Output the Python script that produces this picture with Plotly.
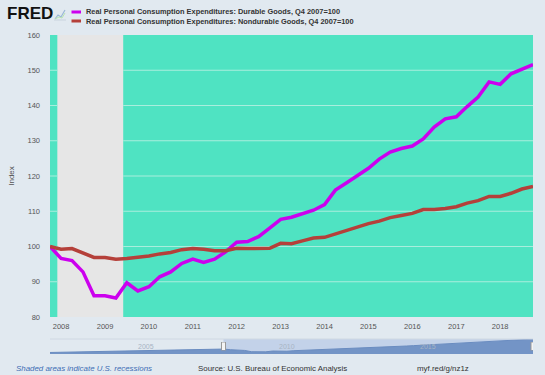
import plotly.graph_objects as go
import pandas as pd

# ---------------- data ----------------
quarters = pd.date_range("2007-10-01", "2018-10-01", freq="QS").strftime("%Y-%m-%d").tolist()

durable = [100.0, 96.6, 96.0, 92.8, 86.0, 86.0, 85.4, 89.7, 87.4, 88.6, 91.4, 92.8,
           95.2, 96.4, 95.5, 96.4, 98.5, 101.2, 101.4, 102.8, 105.2, 107.7, 108.3, 109.2,
           110.3, 111.9, 116.0, 118.0, 120.2, 122.2, 124.8, 126.8, 127.8, 128.5, 130.5,
           133.9, 136.2, 136.8, 139.7, 142.4, 146.7, 146.0, 149.0, 150.3, 151.6]

nondurable = [100.0, 99.2, 99.4, 98.1, 96.9, 96.9, 96.4, 96.6, 96.9, 97.3, 97.9, 98.3,
              99.1, 99.4, 99.2, 98.8, 98.8, 99.5, 99.4, 99.4, 99.5, 100.9, 100.8, 101.6,
              102.4, 102.6, 103.6, 104.5, 105.5, 106.5, 107.2, 108.2, 108.8, 109.4, 110.5,
              110.5, 110.8, 111.3, 112.3, 113.0, 114.2, 114.2, 115.1, 116.3, 117.0]

series_names = ["Real Personal Consumption Expenditures: Durable Goods, Q4 2007=100",
                "Real Personal Consumption Expenditures: Nondurable Goods, Q4 2007=100"]
series_colors = ["#cc00ee", "#b5403a"]

recession = ["2007-12-01", "2009-06-01"]

y_ticks = [80, 90, 100, 110, 120, 130, 140, 150, 160]

nav_hist_dates = ["2001-08-01", "2003-07-01", "2005-07-01", "2007-01-01"]
nav_hist_values = [82, 87, 93, 98]
nav_dates = nav_hist_dates + quarters
nav_values = nav_hist_values + durable
nav_labels = ["2005", "2010", "2015"]
nav_label_dates = ["2005-01-01", "2010-01-01", "2015-01-01"]

x_tick_vals = [f"{y}-01-01" for y in range(2008, 2019)]
x_tick_text = [str(y) for y in range(2008, 2019)]

footer_left = "Shaded areas indicate U.S. recessions"
footer_mid = "Source: U.S. Bureau of Economic Analysis"
footer_right = "myf.red/g/nz1z"

# ---------------- layout helpers ----------------
W, H = 545, 375
ML, MR, MT, MB = 50, 12, 35, 21
PW, PH = W - ML - MR, H - MT - MB


def px(x):
    return (x - ML) / PW


def py(y):
    return (H - MB - y) / PH


FONT = "Liberation Sans, Arial, sans-serif"
PAPER = "#e1e9f0"
TURQ = "#4fe3c2"
GRID = "#a9eedd"

fig = go.Figure()

for name, vals, col in zip(series_names, [durable, nondurable], series_colors):
    fig.add_trace(go.Scatter(x=quarters, y=vals, mode="lines", name=name,
                             line=dict(color=col, width=3.5), showlegend=False,
                             xaxis="x", yaxis="y"))

fig.add_trace(go.Scatter(x=nav_dates, y=nav_values, mode="lines", fill="tozeroy",
                         fillcolor="#7394c6", line=dict(color="#6a8cc0", width=1),
                         showlegend=False, hoverinfo="skip", xaxis="x2", yaxis="y2"))

main_bottom = py(317)
fig.update_layout(
    width=W, height=H,
    margin=dict(l=ML, r=MR, t=MT, b=MB),
    paper_bgcolor=PAPER,
    plot_bgcolor="rgba(0,0,0,0)",
    font=dict(family=FONT, size=8, color="#555555"),
    xaxis=dict(type="date", range=[quarters[0], quarters[-1]], domain=[0, 1],
               anchor="y", tickvals=x_tick_vals, ticktext=x_tick_text,
               showgrid=False, zeroline=False, ticks="", showline=False,
               ticklabelstandoff=3,
               tickfont=dict(size=7.5, color="#555555")),
    yaxis=dict(range=[y_ticks[0], y_ticks[-1]], tickvals=y_ticks, domain=[main_bottom, 1], anchor="x",
               showgrid=False, zeroline=False, ticks="", showline=False,
               tickfont=dict(size=7.5, color="#555555"), ticklabelstandoff=9,
               title=dict(text="Index", font=dict(size=8, color="#555555"), standoff=11)),
    xaxis2=dict(type="date", range=[nav_dates[0], quarters[-1]], domain=[0, 1],
                anchor="y2", showticklabels=False, showgrid=False, zeroline=False,
                ticks="", showline=False),
    yaxis2=dict(range=[74, 153], domain=[0, py(339)], anchor="x2",
                showticklabels=False, showgrid=False, zeroline=False, ticks=""),
)

shapes = []
# turquoise plot background
shapes.append(dict(type="rect", xref="x domain", yref="y domain", x0=0, x1=1, y0=0, y1=1,
                   fillcolor=TURQ, line=dict(width=0), layer="below"))
# recession shading
shapes.append(dict(type="rect", xref="x", yref="y domain", x0=recession[0], x1=recession[1],
                   y0=0, y1=1, fillcolor="#e6e6e6", line=dict(width=0), layer="below"))
# gridlines outside the recession band
for t in y_ticks[1:-1]:
    for xa, xb in [(quarters[0], recession[0]), (recession[1], quarters[-1])]:
        shapes.append(dict(type="line", xref="x", yref="y", x0=xa, x1=xb, y0=t, y1=t,
                           line=dict(color=GRID, width=1), layer="below"))
# navigator selected region
shapes.append(dict(type="rect", xref="x2", yref="paper", x0=quarters[0], x1=quarters[-1],
                   y0=0, y1=py(339), fillcolor="#c3d2e9", line=dict(width=0), layer="below"))
# navigator top outline
shapes.append(dict(type="line", xref="paper", yref="paper", x0=0, x1=1, y0=py(339), y1=py(339),
                   line=dict(color="#cfd8e3", width=1)))
# navigator handles
for d in [quarters[0], quarters[-1]]:
    shapes.append(dict(type="line", xref="x2", yref="paper", x0=d, x1=d,
                       y0=py(350.5), y1=py(342), line=dict(color="#999999", width=5)))
    shapes.append(dict(type="line", xref="x2", yref="paper", x0=d, x1=d,
                       y0=py(350), y1=py(342.5), line=dict(color="#f4f4f4", width=3)))
# legend swatches
for i, col in enumerate(series_colors):
    yy = py(12 + 9 * i)
    shapes.append(dict(type="line", xref="paper", yref="paper", x0=px(71.5), x1=px(81),
                       y0=yy, y1=yy, line=dict(color=col, width=3)))
# small FRED chart icon
shapes.append(dict(type="path", xref="paper", yref="paper",
                   path=f"M {px(55)},{py(19)} L {px(58)},{py(15)} L {px(61)},{py(17)} L {px(65)},{py(10)}",
                   line=dict(color="#9ab7d6", width=1.2)))
shapes.append(dict(type="path", xref="paper", yref="paper",
                   path=f"M {px(55)},{py(19)} L {px(59)},{py(17)} L {px(62)},{py(18)} L {px(65)},{py(13)}",
                   line=dict(color="#b9e3b0", width=1)))
shapes.append(dict(type="line", xref="paper", yref="paper", x0=px(54), x1=px(66),
                   y0=py(20), y1=py(20), line=dict(color="#c9d3de", width=1)))
fig.update_layout(shapes=shapes)

ann = []
ann.append(dict(text="<b>FRED</b>", xref="paper", yref="paper", x=px(5), y=py(13.5),
                xanchor="left", yanchor="middle", showarrow=False,
                font=dict(family=FONT, size=17, color="#111111")))
for i, name in enumerate(series_names):
    ann.append(dict(text=f"<b>{name}</b>", xref="paper", yref="paper", x=px(83.5), y=py(12 + 9 * i),
                    xanchor="left", yanchor="middle", showarrow=False,
                    font=dict(family=FONT, size=7.4, color="#333333")))
for lab, d in zip(nav_labels, nav_label_dates):
    ann.append(dict(text=lab, xref="x2", yref="paper", x=d, y=py(346.5),
                    xanchor="center", yanchor="middle", showarrow=False,
                    font=dict(family=FONT, size=7, color="#a8b4c4")))
ann.append(dict(text=f"<i>{footer_left}</i>", xref="paper", yref="paper", x=px(14), y=py(368),
                xanchor="left", yanchor="middle", showarrow=False,
                font=dict(family=FONT, size=7.9, color="#3d6db5")))
ann.append(dict(text=footer_mid, xref="paper", yref="paper", x=px(196), y=py(368),
                xanchor="left", yanchor="middle", showarrow=False,
                font=dict(family=FONT, size=7.9, color="#333333")))
ann.append(dict(text=footer_right, xref="paper", yref="paper", x=px(415), y=py(368),
                xanchor="left", yanchor="middle", showarrow=False,
                font=dict(family=FONT, size=7.9, color="#333333")))
fig.update_layout(annotations=ann)

fig.write_html("out.html", config={"displayModeBar": False},
               post_script="document.body.style.margin='0';document.body.style.padding='0';")
